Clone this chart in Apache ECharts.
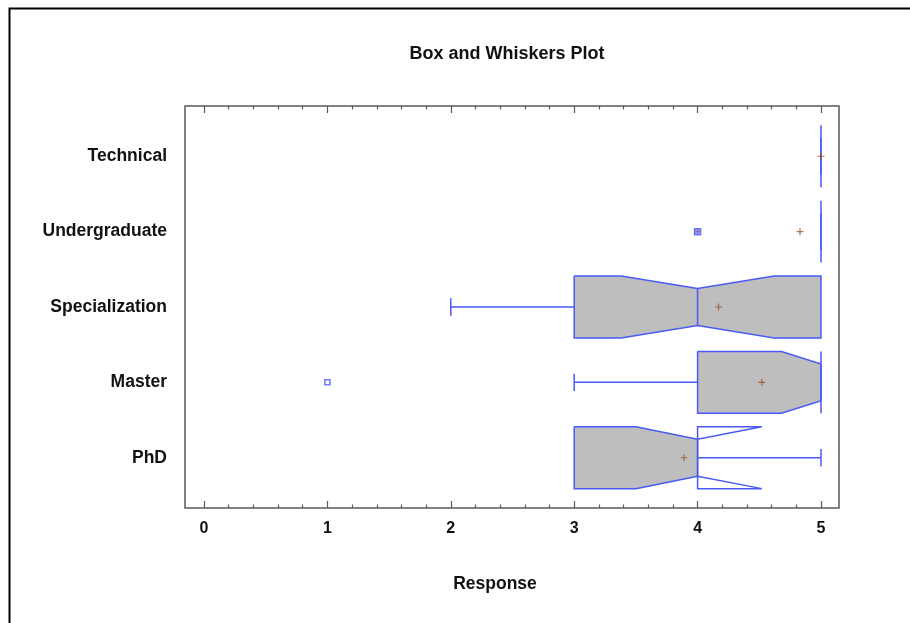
<!DOCTYPE html>
<html>
<head>
<meta charset="utf-8">
<script src="https://cdn.jsdelivr.net/npm/echarts@6/dist/echarts.min.js"></script>
<style>
  html, body { margin: 0; padding: 0; background: #ffffff; }
  #chart { width: 910px; height: 623px; }
</style>
</head>
<body>
<div id="chart"></div>
<script>
// ---- data ----
const categories = ['PhD', 'Master', 'Specialization', 'Undergraduate', 'Technical'];
const q1Values      = [3,    4,    3,    5,    5];
const medianValues  = [4,    5,    4,    5,    5];
const q3Values      = [4,    5,    5,    5,    5];
const notchLow      = [3.5,  4.68, 3.38, 5,    5];
const notchHigh     = [4.52, 5,    4.62, 5,    5];
const whiskerLow    = [3,    3,    2,    5,    5];
const whiskerHigh   = [5,    5,    5,    5,    5];
const meanValues    = [3.89, 4.52, 4.17, 4.83, 5.0];
const outsidePoints = [[1, 'Master']];
const farOutsidePoints = [[4, 'Undergraduate']];
const xTickLabels = [0, 1, 2, 3, 4, 5];
const xMinorTicks = [0.2,0.4,0.6,0.8,1.2,1.4,1.6,1.8,2.2,2.4,2.6,2.8,3.2,3.4,3.6,3.8,4.2,4.4,4.6,4.8];

const FONT = '"Liberation Sans", Arial, sans-serif';
const BLUE = '#4a5af5';
const FILL = '#bebebe';
const MEAN = '#9a4f28';
const FRAME = '#5a5a5a';

const boxData = categories.map((c, i) => [i, q1Values[i], medianValues[i], q3Values[i],
  notchLow[i], notchHigh[i], whiskerLow[i], whiskerHigh[i]]);

function renderBox(params, api) {
  const i = api.value(0), q1 = api.value(1), med = api.value(2), q3 = api.value(3);
  const nlo = api.value(4), nhi = api.value(5), wlo = api.value(6), whi = api.value(7);
  const h = 0.41, hn = 0.245, hc = 0.115;
  const P = (x, dy) => api.coord([x, i + dy]);
  const fillPts = [P(q1, h), P(Math.max(nlo, q1), h), P(med, hn), P(Math.min(nhi, q3), h), P(q3, h),
                   P(q3, -h), P(Math.min(nhi, q3), -h), P(med, -hn), P(Math.max(nlo, q1), -h), P(q1, -h)];
  const outline = [P(q1, h), P(nlo, h), P(med, hn), P(nhi, h), P(q3, h),
                   P(q3, -h), P(nhi, -h), P(med, -hn), P(nlo, -h), P(q1, -h), P(q1, h)];
  const ls = { stroke: BLUE, lineWidth: 1.5, fill: null };
  const children = [
    { type: 'polygon', shape: { points: fillPts }, style: { fill: FILL, stroke: null } },
    { type: 'polyline', shape: { points: outline }, style: ls },
    { type: 'line', shape: { x1: P(med, hn)[0], y1: P(med, hn)[1], x2: P(med, -hn)[0], y2: P(med, -hn)[1] }, style: ls }
  ];
  if (wlo < q1) {
    const a = P(q1, 0), b = P(wlo, 0), c1 = P(wlo, hc), c2 = P(wlo, -hc);
    children.push({ type: 'line', shape: { x1: a[0], y1: a[1], x2: b[0], y2: b[1] }, style: ls });
    children.push({ type: 'line', shape: { x1: c1[0], y1: c1[1], x2: c2[0], y2: c2[1] }, style: ls });
  }
  if (whi > q3) {
    const a = P(q3, 0), b = P(whi, 0), c1 = P(whi, hc), c2 = P(whi, -hc);
    children.push({ type: 'line', shape: { x1: a[0], y1: a[1], x2: b[0], y2: b[1] }, style: ls });
    children.push({ type: 'line', shape: { x1: c1[0], y1: c1[1], x2: c2[0], y2: c2[1] }, style: ls });
  }
  return { type: 'group', children };
}

const PLUS = 'path://M0,2.5H6V3.5H0Z M2.5,0H3.5V6H2.5Z';
const X_MIN = -0.154, X_MAX = 5.146;

function xAxisDef(position, ticks, len, showLabel) {
  return {
    type: 'value', position, min: X_MIN, max: X_MAX, gridIndex: 0,
    axisLine: { show: false, onZero: false },
    splitLine: { show: false },
    axisTick: { show: true, inside: true, length: len, customValues: ticks, lineStyle: { color: FRAME, width: 1.2 } },
    axisLabel: showLabel ? { show: true, customValues: xTickLabels, margin: 13, color: '#111',
      fontFamily: FONT, fontWeight: 'bold', fontSize: 16 } : { show: false },
    name: showLabel ? 'Response' : '',
    nameLocation: 'middle', nameGap: 67,
    nameTextStyle: { fontFamily: FONT, fontWeight: 'bold', fontSize: 17.5, color: '#111', padding: [0, 34, 0, 0] }
  };
}

const chart = echarts.init(document.getElementById('chart'));
chart.setOption({
  animation: false,
  backgroundColor: '#ffffff',
  title: {
    text: 'Box and Whiskers Plot', left: 502, top: 40, textAlign: 'center',
    textStyle: { fontFamily: FONT, fontWeight: 'bold', fontSize: 18, color: '#111' }
  },
  graphic: [{
    type: 'rect', shape: { x: 9.5, y: 8.5, width: 1000, height: 800 },
    style: { fill: null, stroke: '#000', lineWidth: 2 }, silent: true
  }],
  grid: { left: 185, right: 71, top: 106, bottom: 115, show: true, borderColor: FRAME, borderWidth: 1.5, containLabel: false },
  xAxis: [
    xAxisDef('bottom', xTickLabels, 7, true),
    xAxisDef('bottom', xMinorTicks, 3.5, false),
    xAxisDef('top', xTickLabels, 7, false),
    xAxisDef('top', xMinorTicks, 3.5, false)
  ],
  yAxis: {
    type: 'value', min: -0.667, max: 4.667,
    axisLine: { show: false, onZero: false }, axisTick: { show: false }, splitLine: { show: false },
    axisLabel: {
      customValues: [0, 1, 2, 3, 4], margin: 18, color: '#111',
      fontFamily: FONT, fontWeight: 'bold', fontSize: 17.5,
      formatter: v => categories[Math.round(v)]
    }
  },
  series: [
    {
      type: 'custom', renderItem: renderBox, data: boxData, clip: true,
      encode: { x: [1, 2, 3, 4, 5, 6, 7], y: 0 }, xAxisIndex: 0, yAxisIndex: 0
    },
    {
      type: 'scatter', data: meanValues.map((m, i) => [m, i]), symbol: PLUS, symbolSize: 7,
      itemStyle: { color: MEAN }, z: 5
    },
    {
      type: 'scatter', data: outsidePoints.map(p => [p[0], categories.indexOf(p[1])]),
      symbol: 'rect', symbolSize: 5, itemStyle: { color: '#fff', borderColor: BLUE, borderWidth: 1.5 }, z: 5
    },
    {
      type: 'scatter', data: farOutsidePoints.map(p => [p[0], categories.indexOf(p[1])]),
      symbol: 'rect', symbolSize: 6, itemStyle: { color: '#8088ff', borderColor: BLUE, borderWidth: 1.5 }, z: 5
    },
    {
      type: 'scatter', data: farOutsidePoints.map(p => [p[0], categories.indexOf(p[1])]),
      symbol: PLUS, symbolSize: 4, itemStyle: { color: MEAN }, z: 6
    }
  ]
});
</script>
</body>
</html>
